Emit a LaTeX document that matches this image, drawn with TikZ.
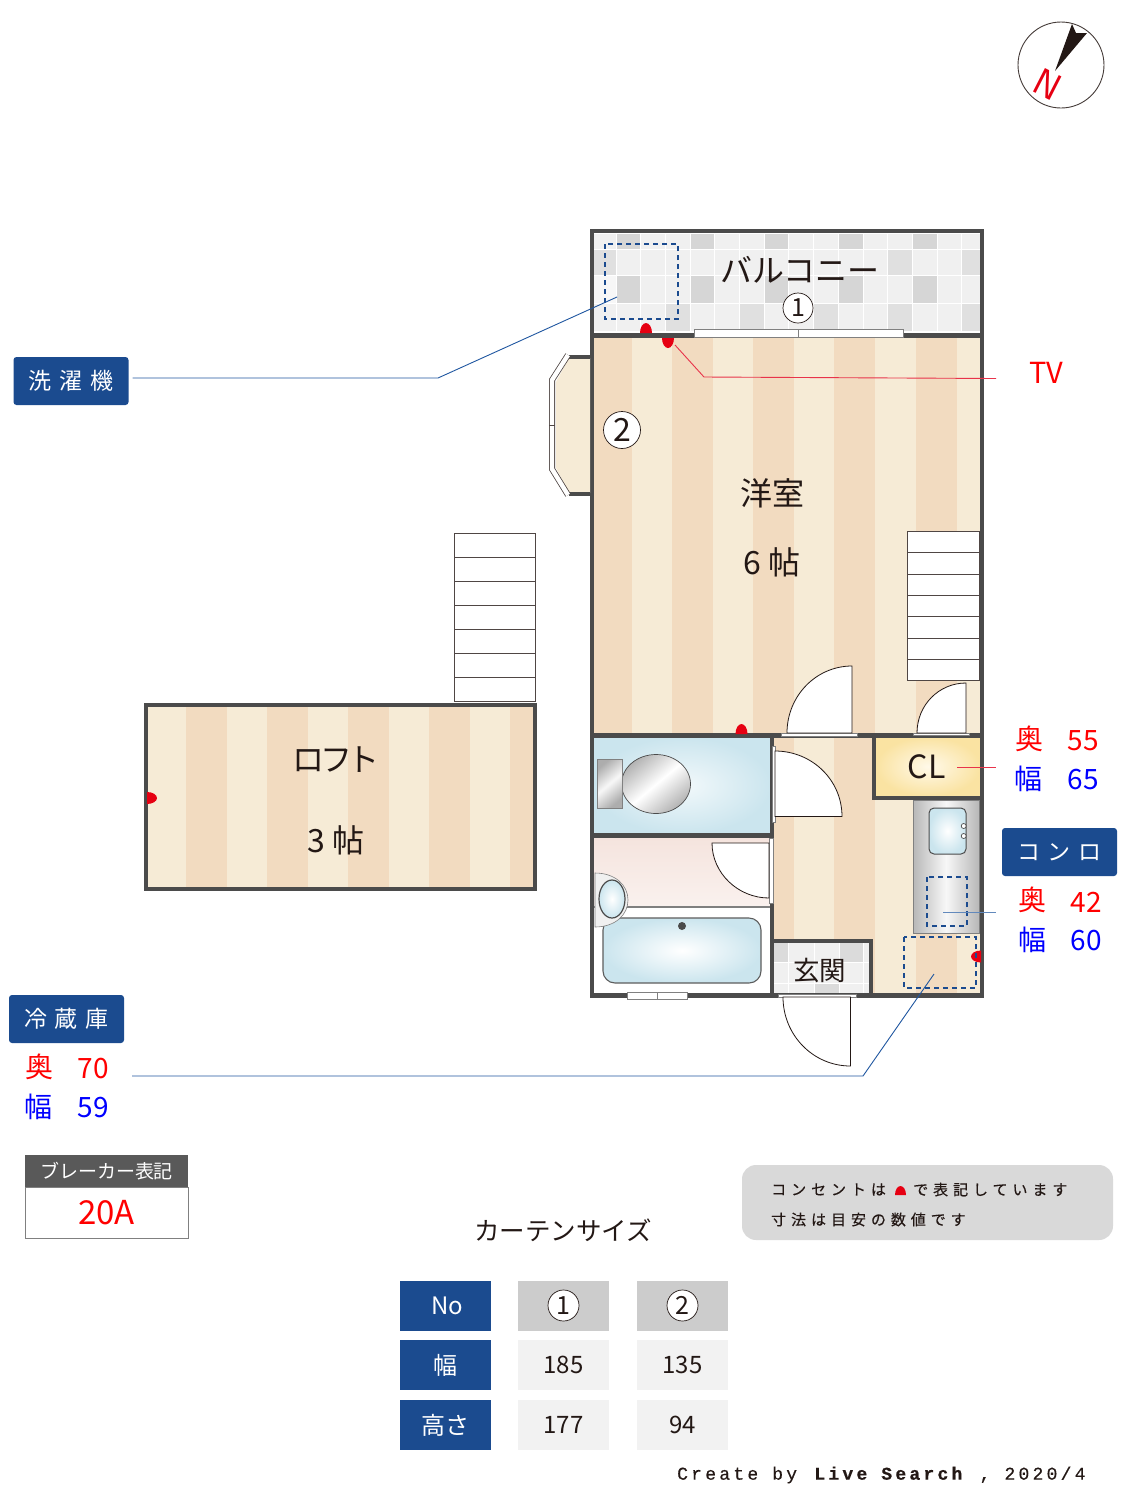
\documentclass[tikz,border=0pt]{standalone}
\usepackage{fontspec}
\setmainfont{Noto Sans CJK JP}
\newfontfamily\jpwide[LetterSpace=33,FakeBold=0.35]{Noto Sans CJK JP}
\newfontfamily\jptight[LetterSpace=-15]{Noto Sans CJK JP}
\newfontfamily\footfont[LetterSpace=18,FakeBold=0.5]{Liberation Mono}
\usetikzlibrary{positioning, shapes.geometric}
\definecolor{wallgray}{HTML}{4B4B4B}
\definecolor{stripedark}{HTML}{F2DBC0}
\definecolor{stripelight}{HTML}{F6EBD6}
\definecolor{tagblue}{HTML}{1B4B8F}
\definecolor{leaderblue}{HTML}{1F56A0}
\definecolor{leaderred}{HTML}{E8334A}
\definecolor{outletred}{HTML}{E60012}
\definecolor{waterblue}{HTML}{CBE5EE}
\definecolor{washtop}{HTML}{F5E4DE}
\definecolor{washlow}{HTML}{FAF1EE}
\definecolor{closetin}{HTML}{FFF9E9}
\definecolor{closetout}{HTML}{FAE3A2}
\definecolor{ink}{HTML}{231815}
\newcommand{\fs}[1]{\fontsize{#1}{#1}\selectfont}
\tikzset{
wall/.style={draw=wallgray, line width=4.6pt}, % the walls of the flat
dashbox/.style={draw=tagblue, line width=1.1pt, dash pattern=on 5pt off 4pt}, % appliance places
thresh/.style={draw=gray, line width=0.9pt, fill=white}, % door sills and windows
leaf/.style={draw=ink, line width=0.8pt, fill=white}, % door leaves
treads/.style={draw=ink!80, line width=0.6pt, fill=white}, % stair steps
plain/.style={inner sep=0pt, text=ink},
marker/.style={circle, draw=ink, line width=0.7pt, fill=white, inner sep=0pt, text=ink},
tagbox/.style={fill=tagblue, rounded corners=3pt, minimum width=115pt, minimum height=48pt, inner sep=0pt, text=white, font=\fs{23}},
headcell/.style={fill=tagblue, minimum width=91pt, minimum height=50pt, inner sep=0pt, text=white, font=\fs{24}},
graycell/.style={fill=black!20, minimum width=91pt, minimum height=50pt, inner sep=0pt},
palecell/.style={fill=black!5, minimum width=91pt, minimum height=50pt, inner sep=0pt, text=ink, font=\fs{24}},
sizered/.style={inner sep=0pt, text=red, font=\fs{28}},
sizeblue/.style={inner sep=0pt, text=blue, font=\fs{28}},
}

\begin{document}
\begin{tikzpicture}[x=1pt, y=-1pt]
  \useasboundingbox (0,0) rectangle (1125,1500);

  % compass
  \node[circle, draw=ink!85, line width=0.9pt, minimum size=86pt, inner sep=0pt] (compass) at (1061,65) {};
  \fill[ink] (1055,71) -- (1072,24) -- (1076,33) -- (1087,33) -- cycle;
  \node[inner sep=0pt, text=outletred, rotate=-27, font=\fs{38}\sffamily] (north) at (1048,84) {N};

  % floors
  \fill[stripelight] (594,338) rectangle (980,993);
  \foreach \x in {594,672,753,834,916}
    \fill[stripedark] (\x,338) rectangle ++(\ifnum\x=594 38\else 41\fi,655);
  \fill[stripelight] (147,707) rectangle (533,888);
  \foreach \x in {186,267,348,429}
    \fill[stripedark] (\x,707) rectangle ++(41,181);
  \fill[stripedark] (510,707) rectangle (533,888);

  % balcony tiles
  \begin{scope}
    \clip (594,234) rectangle (980,331);
    \fill[black!6] (594,234) rectangle (980,331);
    \foreach \c in {1,4,7,10,13} {
      \fill[black!16] (616+24.7*\c-24.7,234) rectangle ++(24.7,15);
      \fill[black!16] (616+24.7*\c-24.7,275) rectangle ++(24.7,28);
    }
    \foreach \c in {3,6,9,12,15}
      \fill[black!12] (616+24.7*\c-24.7,303) rectangle ++(24.7,28);
    \foreach \c in {12,15}
      \fill[black!12] (616+24.7*\c-24.7,249) rectangle ++(24.7,26);
    \fill[black!12] (594,249) rectangle (616,275);
    \fill[black!3] (594,275) rectangle (616,303);
    \foreach \c in {0,...,15}
      \draw[white, line width=0.9pt] (616+24.7*\c,234) -- ++(0,97);
    \foreach \r in {249,275,303}
      \draw[white, line width=0.9pt] (594,\r) -- (980,\r);
  \end{scope}

  % toilet room, washroom, bath
  \shade[inner color=waterblue!25, outer color=waterblue] (594,737) rectangle (771,834);
  \shade[top color=washtop, bottom color=washlow] (594,838) rectangle (771,906);
  \fill[white] (594,908) rectangle (771,993);
  \draw[draw=gray, line width=1.6pt] (594,907) -- (771,907);
  \shade[inner color=white, outer color=waterblue, draw=wallgray!90, line width=1.1pt, rounded corners=12pt] (603,918) rectangle (761,983);
  \fill[wallgray] (682,926) circle[radius=4];
  \shade[draw=wallgray, line width=0.7pt, top color=black!30, bottom color=black!30, middle color=white, shading angle=40] (656,784) circle[x radius=34.5, y radius=29.5];
  \shade[draw=gray, line width=0.7pt, top color=black!32, bottom color=black!32, middle color=black!3, shading angle=40] (597,759) rectangle (622,808);
  \fill[black!6, draw=gray, line width=0.6pt] (595,873) .. controls (615,873) and (628,885) .. (628,900) .. controls (628,915) and (615,927) .. (595,927) -- cycle;
  \shade[inner color=white, outer color=waterblue, draw=wallgray, line width=1.2pt] (612,899) circle[x radius=13, y radius=19];

  % closet
  \shade[inner color=closetin, outer color=closetout] (876,737) rectangle (980,796);

  % kitchen
  \shade[left color=black!28, right color=black!28, middle color=black!3, draw=gray, line width=0.5pt] (913,800) rectangle (979,933);
  \shade[inner color=white, outer color=waterblue, draw=wallgray, line width=1pt, rounded corners=5pt] (929,808) rectangle (966,854);
  \draw[wallgray, fill=white, line width=0.7pt] (963.7,826) circle[radius=2.5] (963.7,836) circle[radius=2.5];

  % entrance tiles
  \fill[black!6] (774,943) rectangle (869,993);
  \fill[black!14] (774,943) rectangle (788,962);
  \fill[black!14] (839,943) rectangle (863,962);
  \fill[black!14] (814,983) rectangle (839,993);
  \foreach \x in {788,814,839,863}
    \draw[white, line width=0.9pt] (\x,943) -- (\x,993);
  \draw[white, line width=0.9pt] (774,962) -- (869,962) (774,983) -- (869,983);

  % walls
  \draw[wall] (592,231) rectangle (982,995.5);
  \draw[wall] (592,335.5) -- (982,335.5);
  \draw[wall] (592,735.5) -- (982,735.5);
  \draw[wall] (592,835.5) -- (772,835.5);
  \draw[wall] (772,735.5) -- (772,995.5);
  \draw[wall] (772,941) -- (871,941) -- (871,995.5);
  \draw[wall] (874,735.5) -- (874,798) -- (982,798);
  \draw[wall] (146,705) rectangle (535,889);

  % bay window
  \fill[stripelight] (569,358) -- (556,382) -- (556,468) -- (569,493) -- (590,493) -- (590,358) -- cycle;
  \draw[wallgray, line width=4pt] (569,356.5) -- (590,356.5) (569,494) -- (590,494);
  \draw[ink!80, line width=6pt] (568,355) -- (552,380) -- (552,469) -- (568,495);
  \draw[white, line width=4.4pt] (568,355) -- (552,380) -- (552,469) -- (568,495);
  \draw[ink!80, line width=0.7pt] (549,425) -- (555,425);

  % sills and windows
  \draw[thresh] (694,329.5) rectangle (903,337.5);
  \draw[gray, line width=0.9pt] (798,329.5) -- (798,337.5);
  \draw[thresh] (627,992) rectangle (687,999);
  \draw[gray, line width=0.9pt] (657,992) -- (657,999);
  \draw[thresh] (781,733.5) rectangle (857,736.5);
  \draw[thresh] (913,733) rectangle (969,735.5);
  \draw[thresh] (772,746) rectangle (775,822);
  \draw[thresh] (769,838) rectangle (773,903);
  \draw[thresh] (778,994) rectangle (856,997);

  % door leaves
  \draw[leaf] (852,733) -- (852,666) .. controls (816,666) and (787,696) .. (787,733) -- cycle;
  \draw[leaf] (966,733) -- (966,683) .. controls (939,683) and (917,705) .. (917,733) -- cycle;
  \draw[leaf] (775,816.5) -- (842,816.5) .. controls (842,780) and (812,751) .. (775,751) -- cycle;
  \draw[leaf] (769,843) -- (712,843) .. controls (712,873) and (738,898) .. (769,898) -- cycle;
  \draw[leaf] (850.5,997) -- (850.5,1066) .. controls (813,1066) and (783,1035) .. (783,997) -- cycle;

  % stairs
  \foreach \y/\h in {531.5/21,552.5/21.5,574/21.5,595.5/21,616.5/21.5,638/21.5,659.5/21}
    \draw[treads] (907,\y) rectangle ++(72,\h);
  \foreach \y in {533.5,557.5,581.5,605.5,629.5,653.5,677.5}
    \draw[treads] (454.5,\y) rectangle ++(81,24);

  % outlets
  \fill[outletred] (640,333) arc[start angle=180, end angle=360, x radius=6, y radius=10];
  \fill[outletred] (662,338) arc[start angle=180, end angle=0, x radius=6, y radius=10];
  \fill[outletred] (735.5,734) arc[start angle=180, end angle=360, x radius=6, y radius=10];
  \fill[outletred] (147,792) arc[start angle=270, end angle=450, x radius=10, y radius=6];
  \fill[outletred] (981,950.5) arc[start angle=270, end angle=90, x radius=10, y radius=6];

  % appliance places
  \draw[dashbox] (605,244) rectangle (678,319);
  \draw[dashbox] (927,877) rectangle (967,926);
  \draw[dashbox] (904,937) rectangle (976,988);

  % room names
  \node[plain, font=\fs{32}] (balcony) at (800,270) {バルコニー};
  \node[plain, font=\fs{32}] (western) at (772,493) {洋室};
  \node[plain, font=\fs{32}] (westernsize) at (772,562) {6 帖};
  \node[plain, font=\fs{32}\jptight] (loft) at (336,760) {ロフト};
  \node[plain, font=\fs{32}] (loftsize) at (336,840) {3 帖};
  \node[plain, font=\fs{32}] (closet) at (926.5,767) {CL};
  \node[plain, font=\fs{26.5}] (entrance) at (819.5,970) {玄関};
  \node[marker, minimum size=30pt, font=\fs{25}] (curtainone) at (798,308) {1};
  \node[marker, minimum size=37pt, font=\fs{32}] (curtaintwo) at (622,430) {2};

  % tags and sizes
  \node[tagbox] (washertag) at (71,381) {洗\hspace{8pt}濯\hspace{8pt}機};
  \node[tagbox] (stovetag) at (1059.5,852) {コ\hspace{8pt}ン\hspace{8pt}ロ};
  \node[tagbox] (fridgetag) at (66.5,1019) {冷\hspace{8pt}蔵\hspace{8pt}庫};
  \node[inner sep=0pt, text=red, font=\fs{29}] (tv) at (1046.5,373) {TV};
  \node[sizered] (closetdepth) at (1029,739) {奥};
  \node[sizered] (closetdepthval) at (1083.5,741) {55};
  \node[sizeblue] (closetwidth) at (1028,779) {幅};
  \node[sizeblue] (closetwidthval) at (1083.5,780) {65};
  \node[sizered] (stovedepth) at (1032,900) {奥};
  \node[sizered] (stovedepthval) at (1086.5,902) {42};
  \node[sizeblue] (stovewidth) at (1032,940) {幅};
  \node[sizeblue] (stovewidthval) at (1086.5,941) {60};
  \node[sizered] (fridgedepth) at (39,1067) {奥};
  \node[sizered] (fridgedepthval) at (93.5,1069) {70};
  \node[sizeblue] (fridgewidth) at (38,1107) {幅};
  \node[sizeblue] (fridgewidthval) at (93.5,1108) {59};

  % leaders
  \coordinate (washerbend) at (438,378);
  \coordinate (washerend) at (617,297);
  \coordinate (tvstart) at (675,345);
  \coordinate (tvbend) at (704,377);
  \coordinate (tvend) at (996,378.5);
  \coordinate (closetstart) at (957,767);
  \coordinate (closetend) at (996,767);
  \coordinate (stovestart) at (943,912);
  \coordinate (stoveend) at (996,912);
  \coordinate (fridgestart) at (132,1076);
  \coordinate (fridgebend) at (863,1076);
  \coordinate (fridgeend) at (934,974);
  \draw[leaderblue, line width=0.9pt, shorten <=4pt] (washertag.east |- washerbend) -- (washerbend) -- (washerend);
  \draw[leaderred, line width=0.9pt] (tvstart) -- (tvbend) -- (tvend);
  \draw[leaderred, line width=0.9pt] (closetstart) -- (closetend);
  \draw[leaderblue!70, line width=0.9pt] (stovestart) -- (stoveend);
  \draw[leaderblue, line width=0.9pt] (fridgestart) -- (fridgebend) -- (fridgeend);

  % breaker
  \node[fill=black!65, minimum width=163pt, minimum height=32pt, inner sep=0pt, text=white, font=\fs{19}] (breakerhead) at (106.5,1171) {ブレーカー表記};
  \node[draw=black!50, line width=0.7pt, fill=white, minimum width=163pt, minimum height=51pt, inner sep=0pt, text=red, font=\fs{33}] (breaker) at (106.5,1212.5) {20A};

  % note
  \node[fill=black!15, rounded corners=14pt, minimum width=371pt, minimum height=75pt, inner sep=0pt] (note) at (927.5,1202.5) {};
  \node[plain, anchor=west, font=\fs{15}\jpwide] (noteone) at (771,1189.5) {コンセントは};
  \fill[outletred] (895,1195) arc[start angle=180, end angle=360, x radius=5.5, y radius=9];
  \node[plain, anchor=west, font=\fs{15}\jpwide] (noteonemore) at (913,1189.5) {で表記しています};
  \node[plain, anchor=west, font=\fs{15}\jpwide] (notetwo) at (771,1219.5) {寸法は目安の数値です};

  % curtain table
  \node[plain, font=\fs{25.5}] (curtaintitle) at (563,1230) {カーテンサイズ};
  \node[headcell] (nohead) at (445,1305.5) {\hspace{4pt}No};
  \node[headcell] (widthhead) at (445,1365) {幅};
  \node[headcell] (heighthead) at (445,1425) {高さ};
  \node[graycell] (onehead) at (563.5,1305.5) {};
  \node[graycell] (twohead) at (682.5,1305.5) {};
  \node[marker, minimum size=31pt, font=\fs{25}] (onemark) at (onehead) {1};
  \node[marker, minimum size=31pt, font=\fs{25}] (twomark) at (twohead) {2};
  \node[palecell] (onewidth) at (563.5,1365) {185};
  \node[palecell] (twowidth) at (682.5,1365) {135};
  \node[palecell] (oneheight) at (563.5,1425) {177};
  \node[palecell] (twoheight) at (682.5,1425) {94};

  \node[plain, anchor=west, font=\fs{18}\footfont] (credit) at (677,1475) {Create by \textbf{Live Search} , 2020/4};
\end{tikzpicture}
\end{document}
